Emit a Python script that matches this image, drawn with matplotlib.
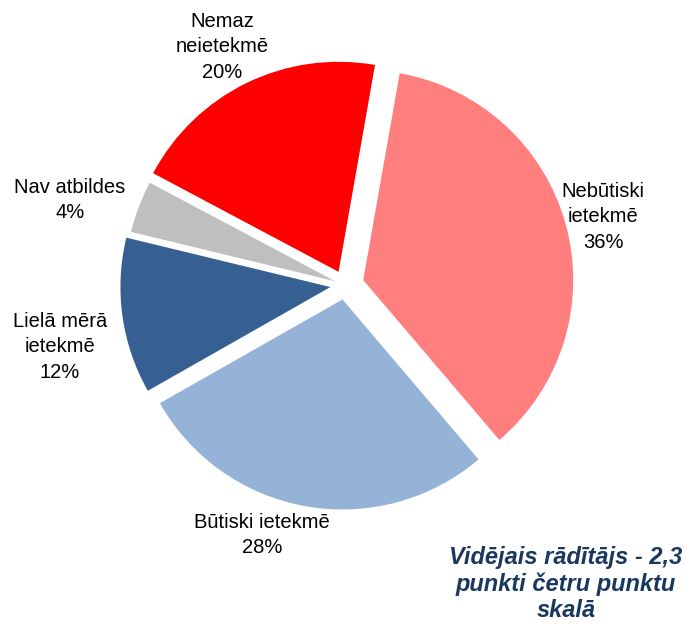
import matplotlib
matplotlib.use("Agg")
import matplotlib.pyplot as plt

plt.rcParams['font.family'] = ['Liberation Sans', 'DejaVu Sans']

# data
labels = ['Nebūtiski\nietekmē', 'Būtiski ietekmē', 'Lielā mērā\nietekmē', 'Nav atbildes', 'Nemaz\nneietekmē']
values = [36, 28, 12, 4, 20]
colors = ['#FF7F7F', '#95B3D7', '#376092', '#BFBFBF', '#FF0000']
explode = [0.09, 0.07, 0.07, 0.05, 0.07]

# label centres in pixel coords (x from left, y from top)
label_pos = [(603, 217), (262, 535), (60, 347), (70, 200), (222, 47)]

W, H = 686, 624
R = 210  # pie radius in px
cx, cy = 345, 285

fig = plt.figure(figsize=(W / 100, H / 100), dpi=100)
ax = fig.add_axes([0, 0, 1, 1])

ax.pie(values, colors=colors, explode=explode, startangle=80, counterclock=False,
       radius=1, wedgeprops={'linewidth': 0})

ax.set_xlim(-cx / R, (W - cx) / R)
ax.set_ylim(-(H - cy) / R, cy / R)
ax.set_aspect('equal')
ax.axis('off')

for lab, v, (px, py) in zip(labels, values, label_pos):
    ax.text((px - cx) / R, (cy - py) / R, f'{lab}\n{v}%', ha='center', va='center',
            fontsize=14.5, linespacing=1.45, color='black')

ax.text((566 - cx) / R, (cy - 584) / R, 'Vidējais rādītājs - 2,3\npunkti četru punktu\nskalā',
        ha='center', va='center', fontsize=17, fontweight='bold', fontstyle='italic',
        color='#1A3760', linespacing=1.2)

fig.savefig('out.png', dpi=100)
